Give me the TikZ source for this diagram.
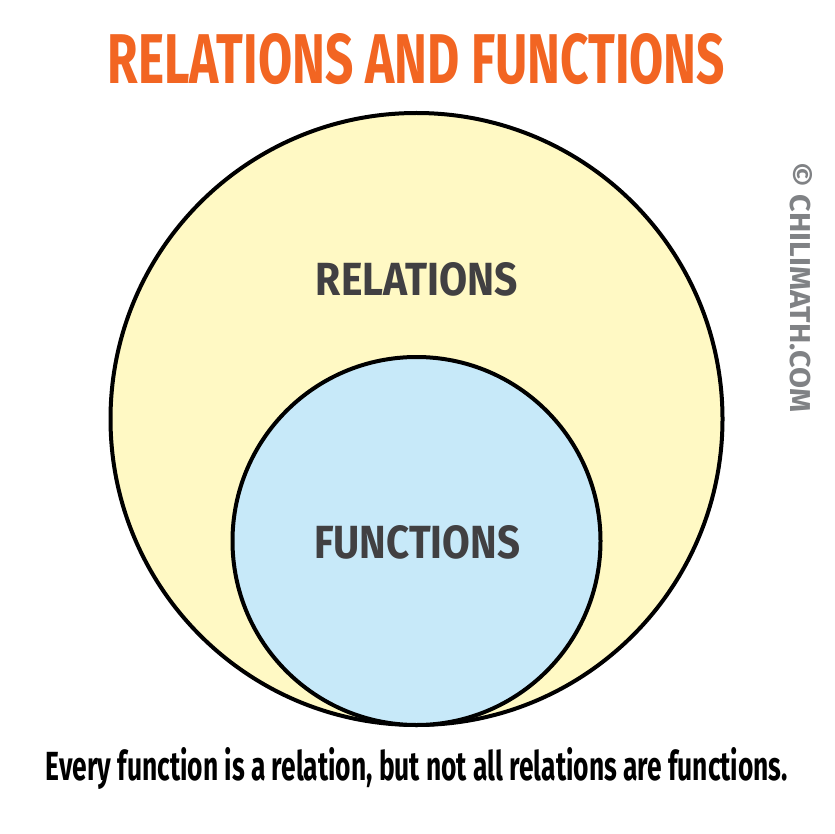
\documentclass[tikz,border=0pt]{standalone}
\usepackage{fontspec}
\setmainfont{Fira Sans}
\usepackage{tikz}
\definecolor{titleorange}{HTML}{F26522}
\definecolor{relyellow}{HTML}{FFF9C4}
\definecolor{funblue}{HTML}{C7E9F9}
\definecolor{labelgray}{HTML}{414042}
\definecolor{markgray}{HTML}{808285}
\newcommand{\fitted}[3]{\resizebox{#1pt}{#2pt}{\bfseries #3}}
\tikzset{
	setcircle/.style={circle,draw=black,line width=4pt,inner sep=0pt},
	setlabel/.style={text=labelgray,inner sep=0pt},
}
\begin{document}
\begin{tikzpicture}[x=1pt,y=-1pt]
	\useasboundingbox (0,0) rectangle (834,834);
	\fill[white] (0,0) rectangle (834,834);
	
	% Draw the two sets
	\node[setcircle,fill=relyellow,minimum size=612pt] (relset) at (416.5,419) {};
	\node[setcircle,fill=funblue,minimum size=368pt] (funset) at (416.5,541) {};
	
	% Draw labels
	\node[setlabel] (rellabel) at (417,279.5) {\fitted{202}{33}{RELATIONS}};
	\node[setlabel] (funlabel) at (417,542.5) {\fitted{206}{33}{FUNCTIONS}};
	\node[inner sep=0pt,text=titleorange] (title) at (416.5,59) {\fitted{617}{50}{RELATIONS AND FUNCTIONS}};
	\node[inner sep=0pt,anchor=base] (caption) at (417,780) {\fitted{742}{33}{Every function is a relation, but not all relations are functions.}};
	\node[inner sep=0pt,rotate=-90,text=markgray] (mark) at (801,287.5) {\fitted{249}{22}{© CHILIMATH.COM}};
	
\end{tikzpicture}
\end{document}
